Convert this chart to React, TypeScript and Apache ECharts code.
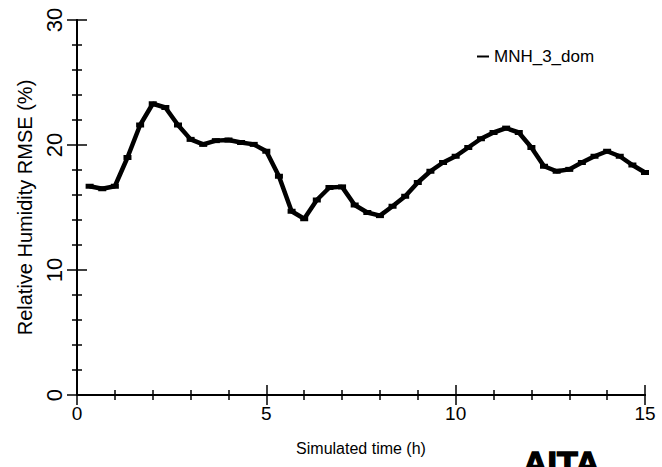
import React, { useEffect, useRef } from "react";
import * as echarts from "echarts";

const times = [
  0.333, 0.667, 1.0, 1.333, 1.667, 2.0, 2.333, 2.667, 3.0, 3.333, 3.667, 4.0,
  4.333, 4.667, 5.0, 5.333, 5.667, 6.0, 6.333, 6.667, 7.0, 7.333, 7.667, 8.0,
  8.333, 8.667, 9.0, 9.333, 9.667, 10.0, 10.333, 10.667, 11.0, 11.333, 11.667,
  12.0, 12.333, 12.667, 13.0, 13.333, 13.667, 14.0, 14.333, 14.667, 15.0,
];

const rmse = [
  16.7, 16.5, 16.7, 19.0, 21.6, 23.3, 23.0, 21.6, 20.45, 20.05, 20.35, 20.4,
  20.2, 20.05, 19.5, 17.5, 14.7, 14.1, 15.6, 16.6, 16.65, 15.2, 14.6, 14.35,
  15.1, 15.9, 17.0, 17.9, 18.6, 19.1, 19.8, 20.5, 21.0, 21.35, 21.0,
  19.8, 18.3, 17.9, 18.05, 18.6, 19.1, 19.5, 19.1, 18.4, 17.8,
];

const seriesName = "MNH_3_dom";
const xTitle = "Simulated time (h)";
const yTitle = "Relative Humidity RMSE (%)";
const logoText = "AITA";

const FONT = "Liberation Sans, Arial, Helvetica, sans-serif";

export default function App() {
  const ref = useRef<HTMLDivElement>(null);

  useEffect(() => {
    if (!ref.current) return;
    const chart = echarts.init(ref.current, null, { renderer: "svg" });

    const axisCommon = {
      axisLine: { show: true, lineStyle: { color: "#000", width: 2 } },
      axisTick: { show: true, inside: true, length: 10, lineStyle: { color: "#000", width: 1.5 } },
      minorTick: { show: true, splitNumber: 5, length: 5, lineStyle: { color: "#000", width: 1.5 } },
      splitLine: { show: false },
      minorSplitLine: { show: false },
    };

    chart.setOption({
      animation: false,
      backgroundColor: "#fff",
      textStyle: { fontFamily: FONT },
      grid: { left: 77, right: 17, top: 20, bottom: 72, containLabel: false },
      legend: {
        data: [seriesName],
        left: 472,
        top: 43,
        icon: "rect",
        itemWidth: 12,
        itemHeight: 2,
        itemGap: 10,
        textStyle: { fontSize: 17, color: "#000", fontFamily: FONT },
      },
      xAxis: [
        {
          type: "value",
          position: "bottom",
          min: 0,
          max: 15,
          interval: 5,
          ...axisCommon,
          axisLabel: { fontSize: 19, color: "#000", margin: 9, fontFamily: FONT },
          name: xTitle,
          nameLocation: "middle",
          nameGap: 45,
          nameTextStyle: { fontSize: 16, color: "#000", fontFamily: FONT },
        },
        {
          type: "value",
          position: "top",
          min: 0,
          max: 15,
          interval: 5,
          ...axisCommon,
          axisLabel: { show: false },
        },
      ],
      yAxis: [
        {
          type: "value",
          position: "left",
          min: 0,
          max: 30,
          interval: 10,
          ...axisCommon,
          axisLabel: { fontSize: 22, color: "#000", margin: 12, rotate: 90, fontFamily: FONT },
          name: yTitle,
          nameLocation: "middle",
          nameGap: 41,
          nameTextStyle: { fontSize: 20, color: "#000", fontFamily: FONT },
        },
        {
          type: "value",
          position: "right",
          min: 0,
          max: 30,
          interval: 10,
          ...axisCommon,
          axisLabel: { show: false },
        },
      ],
      series: [
        {
          name: seriesName,
          type: "line",
          xAxisIndex: 0,
          yAxisIndex: 0,
          data: times.map((t, i) => [t, rmse[i]]),
          lineStyle: { color: "#000", width: 4.5 },
          itemStyle: { color: "#000" },
          symbol: "rect",
          symbolSize: [8, 5],
          showSymbol: true,
        },
      ],
      graphic: [
        {
          type: "text",
          x: 523,
          y: 446,
          style: {
            text: logoText,
            fontSize: 34,
            fontWeight: 900,
            fontFamily: FONT,
            fill: "#000",
            stroke: "#000",
            lineWidth: 1.5,
            textVerticalAlign: "top",
          },
        },
      ],
    });

    return () => chart.dispose();
  }, []);

  return <div ref={ref} style={{ width: 662, height: 467, position: "absolute", left: 0, top: 0 }} />;
}
